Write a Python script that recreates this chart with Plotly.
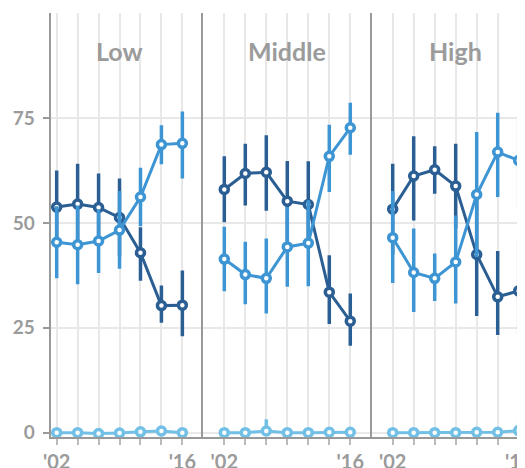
import plotly.graph_objects as go

# ---- data ----
idx = [0, 1, 2, 3, 4, 5, 6]
tick_text = ["'02", "", "", "", "", "", "'16"]
panels = ["Low", "Middle", "High"]

low_dark = [53.8, 54.5, 53.7, 51.3, 42.9, 30.3, 30.4]
low_dark_hi = [62.5, 64.1, 61.8, 60.6, 49.0, 35.1, 38.7]
low_dark_lo = [45.1, 44.9, 45.6, 42.0, 36.2, 26.2, 23.0]
low_med = [45.4, 44.8, 45.7, 48.3, 56.2, 68.7, 69.0]
low_med_hi = [54.0, 54.2, 53.3, 57.6, 63.2, 73.3, 76.6]
low_med_lo = [36.8, 35.4, 38.1, 39.1, 49.2, 64.0, 60.6]
low_light = [0.0, 0.0, -0.2, -0.1, 0.2, 0.4, 0.0]
low_light_hi = [1.0, 1.0, 0.8, 0.9, 1.2, 1.4, 1.0]
low_light_lo = [-1.0, -1.0, -1.2, -1.1, -0.8, -0.6, -1.0]

mid_dark = [58.0, 61.8, 62.1, 55.2, 54.4, 33.5, 26.6]
mid_dark_hi = [65.9, 68.9, 70.9, 64.8, 64.7, 42.3, 33.2]
mid_dark_lo = [50.2, 54.2, 52.9, 45.6, 44.1, 25.9, 20.7]
mid_med = [41.4, 37.7, 36.8, 44.3, 45.2, 65.9, 72.7]
mid_med_hi = [49.1, 45.5, 46.3, 53.8, 55.4, 73.4, 78.7]
mid_med_lo = [33.7, 30.6, 28.4, 34.8, 34.9, 57.4, 66.3]
mid_light = [0.0, 0.0, 0.4, 0.0, 0.0, 0.1, 0.1]
mid_light_hi = [1.0, 1.0, 3.2, 1.0, 1.0, 1.1, 1.1]
mid_light_lo = [-1.0, -1.0, -0.6, -1.0, -1.0, -0.9, -0.9]

high_dark = [53.3, 61.2, 62.7, 58.8, 42.5, 32.4, 33.8]
high_dark_hi = [64.1, 70.7, 68.3, 68.9, 57.0, 43.3, 46.1]
high_dark_lo = [42.5, 50.6, 57.0, 48.7, 27.8, 23.3, 23.5]
high_med = [46.5, 38.2, 36.8, 40.7, 56.8, 66.9, 64.9]
high_med_hi = [57.6, 48.7, 42.7, 51.8, 71.7, 76.3, 75.4]
high_med_lo = [35.7, 28.8, 31.4, 30.8, 41.9, 56.2, 53.3]
high_light = [0.0, 0.0, 0.0, 0.0, 0.1, 0.1, 0.5]
high_light_hi = [1.0, 1.0, 1.0, 1.0, 1.1, 1.1, 3.7]
high_light_lo = [-1.0, -1.0, -1.0, -1.0, -0.9, -0.9, -0.5]

y_ticks = [0, 25, 50, 75]

DARK = "#2b5f94"
MED = "#3d95d3"
LIGHT = "#73c0e7"
GRAY = "#9b9b9b"
AXIS = "#999999"
GRID = "#e8e8e8"
FONT = "Lato"

panel_data = [
    [(low_dark, low_dark_hi, low_dark_lo, DARK),
     (low_med, low_med_hi, low_med_lo, MED),
     (low_light, low_light_hi, low_light_lo, LIGHT)],
    [(mid_dark, mid_dark_hi, mid_dark_lo, DARK),
     (mid_med, mid_med_hi, mid_med_lo, MED),
     (mid_light, mid_light_hi, mid_light_lo, LIGHT)],
    [(high_dark, high_dark_hi, high_dark_lo, DARK),
     (high_med, high_med_hi, high_med_lo, MED),
     (high_light, high_light_hi, high_light_lo, LIGHT)],
]

fig = go.Figure()
for p, series in enumerate(panel_data):
    xa = "x" if p == 0 else f"x{p+1}"
    ya = "y" if p == 0 else f"y{p+1}"
    for vals, hi, lo, col in series:
        fig.add_trace(go.Scatter(
            x=idx, y=vals, xaxis=xa, yaxis=ya,
            mode="lines+markers",
            line=dict(color=col, width=3),
            marker=dict(size=8, color="white", line=dict(color=col, width=3.5)),
            error_y=dict(type="data", symmetric=False,
                         array=[h - v for h, v in zip(hi, vals)],
                         arrayminus=[v - l for v, l in zip(vals, lo)],
                         color=col, thickness=3.5, width=0),
            cliponaxis=False, showlegend=False, hoverinfo="skip",
        ))

# page body has an 8px margin, so the figure is offset by 8px
OFF = 8
W, H = 525 - OFF, 468 - OFF
x_edges = [50.7 - OFF, 203.3 - OFF, 371.7 - OFF, W]
x_ranges = [[-0.286, 7.0], [-1.0, 7.02], [-1.0, 6.3]]
y_dom = [(H - (437.3 - OFF)) / H, (H - (13.3 - OFF)) / H]
y_range = [-1.1, 100]

layout = dict(
    template="none",
    width=W, height=H, margin=dict(l=0, r=0, t=0, b=0, pad=0),
    paper_bgcolor="white", plot_bgcolor="white",
    font=dict(family=FONT, color=GRAY),
)
for p in range(3):
    sx = "" if p == 0 else str(p + 1)
    layout["xaxis" + sx] = dict(
        domain=[x_edges[p] / W, x_edges[p + 1] / W], range=x_ranges[p],
        anchor="y" + sx, tickmode="array", tickvals=idx, ticktext=tick_text,
        showgrid=True, gridcolor=GRID, gridwidth=2,
        showline=True, linecolor=AXIS, linewidth=2,
        ticks="outside", ticklen=6, tickwidth=2, tickcolor="#bbbbbb",
        tickfont=dict(family=FONT, size=20, color=GRAY, weight="bold"),
        ticklabeloverflow="allow",
        zeroline=False, fixedrange=True, automargin=False,
    )
    layout["yaxis" + sx] = dict(
        domain=y_dom, range=y_range, anchor="x" + sx,
        tickmode="array", tickvals=y_ticks,
        showgrid=True, gridcolor=GRID, gridwidth=2,
        showline=True, linecolor=AXIS, linewidth=2,
        zeroline=False, fixedrange=True, automargin=False,
        showticklabels=(p == 0),
        ticks="outside" if p == 0 else "", ticklen=6, tickwidth=2, tickcolor=AXIS,
        tickfont=dict(family=FONT, size=19, color=GRAY, weight="bold"),
        ticklabelstandoff=4,
    )
# inside part of the y tick marks on the first panel
layout["yaxis4"] = dict(
    domain=y_dom, range=y_range, overlaying="y", anchor="x",
    tickmode="array", tickvals=y_ticks, showticklabels=False,
    ticks="inside", ticklen=7, tickwidth=2, tickcolor=AXIS,
    showgrid=False, showline=False, zeroline=False, fixedrange=True,
    automargin=False,
)
fig.update_layout(**layout)

for p, name in enumerate(panels):
    sx = "" if p == 0 else str(p + 1)
    fig.add_annotation(
        x=3, y=91, xref="x" + sx, yref="y", text=name, showarrow=False,
        font=dict(family=FONT, size=25, color=GRAY, weight="bold"),
    )

fig.write_html("out.html", config={"displayModeBar": False})
